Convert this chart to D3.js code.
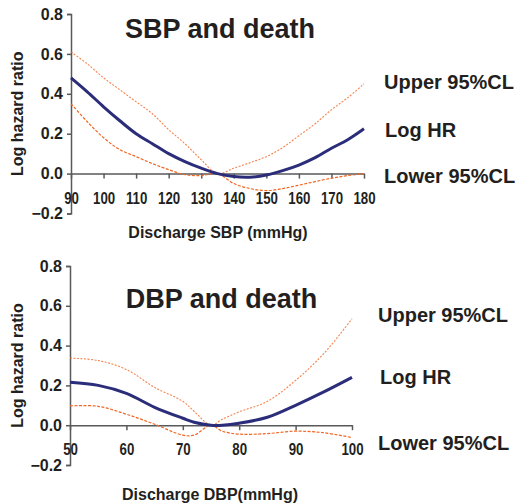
<!DOCTYPE html>
<html>
<head>
<meta charset="utf-8">
<script src="https://cdn.jsdelivr.net/npm/d3@7"></script>
<style>
  body { margin: 0; background: #fff; }
  svg { display: block; font-family: "Liberation Sans", Arial, sans-serif; font-weight: bold; }
</style>
</head>
<body>
<div id="graph-container"></div>
<script>
const width = 519;
const height = 504;

// SBP panel data (log hazard ratio by discharge SBP)
const sbpX = [90, 95, 100, 105, 110, 115, 120, 125, 130, 135, 140, 145, 150, 155, 160, 165, 170, 175, 180];
const sbpLogHR = [0.48, 0.41, 0.335, 0.265, 0.20, 0.15, 0.10, 0.06, 0.027, 0.0, -0.015, -0.018, -0.007, 0.015, 0.043, 0.08, 0.127, 0.17, 0.225];
const sbpUpper = [0.61, 0.55, 0.48, 0.42, 0.36, 0.30, 0.22, 0.15, 0.07, 0.0, 0.027, 0.055, 0.085, 0.13, 0.19, 0.25, 0.32, 0.38, 0.45];
const sbpLower = [0.35, 0.26, 0.18, 0.12, 0.085, 0.05, 0.02, -0.005, -0.01, 0.0, -0.05, -0.075, -0.085, -0.075, -0.058, -0.04, -0.023, -0.01, 0.0];
const sbpTicks = [90, 100, 110, 120, 130, 140, 150, 160, 170, 180];

// DBP panel data
const dbpX = [50, 55, 60, 65, 70, 72, 75, 77, 80, 85, 90, 95, 100];
const dbpLogHR = [0.216, 0.2, 0.16, 0.09, 0.035, 0.015, 0.0, 0.0, 0.01, 0.04, 0.1, 0.167, 0.24];
const dbpUpper = [0.337, 0.325, 0.28, 0.19, 0.12, 0.07, 0.0, 0.03, 0.067, 0.12, 0.225, 0.36, 0.535];
const dbpLower = [0.097, 0.095, 0.055, 0.005, -0.05, -0.05, 0.0, -0.03, -0.045, -0.042, -0.03, -0.038, -0.062];
const dbpTicks = [50, 60, 70, 80, 90, 100];

const yTicks = [-0.2, 0, 0.2, 0.4, 0.6, 0.8];
const legendLabels = ["Upper 95%CL", "Log HR", "Lower 95%CL"];

const textColor = "#231f20";
const axisColor = "#58595b";
const hrColor = "#2b2d7a";
const clColor = "#f26522";

const svg = d3.select("#graph-container").append("svg")
    .attr("width", width)
    .attr("height", height);

function panel(opts) {
    const x = d3.scaleLinear().domain(opts.xDomain).range(opts.xRange);
    const y = d3.scaleLinear().domain([-0.2, 0.8]).range(opts.yRange);
    const g = svg.append("g");

    // y axis
    g.append("g")
        .attr("transform", `translate(${opts.xRange[0]},0)`)
        .call(d3.axisLeft(y).tickValues(yTicks).tickFormat(d3.format(".1f")).tickSize(4).tickPadding(4))
        .call(a => a.select(".domain").attr("stroke", axisColor).attr("stroke-width", 1.5))
        .call(a => a.selectAll(".tick line").attr("stroke", axisColor).attr("stroke-width", 1.5))
        .call(a => a.selectAll("text")
            .attr("fill", textColor)
            .attr("font-size", 16)
            .attr("font-family", "Liberation Sans, Arial, sans-serif")
            .attr("font-weight", "bold"));

    // x axis along zero
    g.append("g")
        .attr("transform", `translate(0,${y(0)})`)
        .call(d3.axisBottom(x).tickValues(opts.xTicks).tickSize(5).tickSizeOuter(0))
        .call(a => a.select(".domain").attr("stroke", axisColor).attr("stroke-width", 1.5))
        .call(a => a.selectAll(".tick line").attr("stroke", axisColor).attr("stroke-width", 1.5))
        .call(a => a.selectAll("text")
            .attr("fill", textColor)
            .attr("font-size", 17)
            .attr("font-family", "Liberation Sans, Arial, sans-serif")
            .attr("font-weight", "bold")
            .attr("y", 0)
            .attr("dy", 0)
            .attr("transform", "translate(0,30) scale(0.78,1)"));

    const line = d3.line()
        .x((d, i) => x(opts.xs[i]))
        .y(d => y(d))
        .curve(d3.curveCatmullRom);

    g.append("path")
        .attr("d", line(opts.upper))
        .attr("fill", "none")
        .attr("stroke", clColor)
        .attr("stroke-opacity", 0.8)
        .attr("stroke-width", 1.1)
        .attr("stroke-dasharray", "2,1.5");

    g.append("path")
        .attr("d", line(opts.lower))
        .attr("fill", "none")
        .attr("stroke", clColor)
        .attr("stroke-width", 1.2)
        .attr("stroke-dasharray", "3,1.5");

    g.append("path")
        .attr("d", line(opts.logHR))
        .attr("fill", "none")
        .attr("stroke", hrColor)
        .attr("stroke-width", 3);

    // title
    g.append("text")
        .attr("x", opts.titleX)
        .attr("y", opts.titleY)
        .attr("text-anchor", "middle")
        .attr("font-size", 27)
        .attr("fill", textColor)
        .text(opts.title);

    // x axis title
    g.append("text")
        .attr("x", opts.xTitleX)
        .attr("y", opts.xTitleY)
        .attr("text-anchor", "middle")
        .attr("font-size", 16)
        .attr("fill", textColor)
        .text(opts.xTitle);

    // y axis title
    g.append("text")
        .attr("transform", `translate(23,${(y(-0.2) + y(0.8)) / 2}) rotate(-90)`)
        .attr("text-anchor", "middle")
        .attr("font-size", 16)
        .attr("fill", textColor)
        .text("Log hazard ratio");

    // curve labels
    g.selectAll(".lab")
        .data(legendLabels)
        .join("text")
        .attr("x", (d, i) => opts.labX[i])
        .attr("y", (d, i) => opts.labY[i])
        .attr("font-size", 20)
        .attr("fill", textColor)
        .text(d => d);
}

panel({
    xDomain: [90, 180], xRange: [71, 364], yRange: [213.5, 14],
    xTicks: sbpTicks, xs: sbpX, logHR: sbpLogHR, upper: sbpUpper, lower: sbpLower,
    title: "SBP and death", titleX: 220, titleY: 38,
    xTitle: "Discharge SBP (mmHg)", xTitleX: 218, xTitleY: 238,
    labX: [384, 385, 384], labY: [89, 137, 183]
});

panel({
    xDomain: [50, 100], xRange: [70, 352], yRange: [465, 266],
    xTicks: dbpTicks, xs: dbpX, logHR: dbpLogHR, upper: dbpUpper, lower: dbpLower,
    title: "DBP and death", titleX: 221.5, titleY: 308,
    xTitle: "Discharge DBP(mmHg)", xTitleX: 210, xTitleY: 500,
    labX: [378, 380, 378], labY: [322, 384, 450]
});
</script>
</body>
</html>
